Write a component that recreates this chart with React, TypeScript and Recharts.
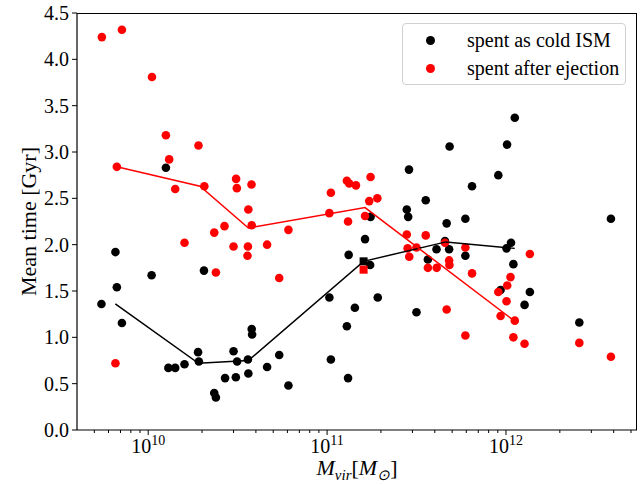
import {
  ComposedChart,
  Scatter,
  XAxis,
  YAxis,
} from "recharts";

// mass in M_sun, time in Gyr
const coldMass = [
  5.48e9, 6.56e9, 6.68e9, 7.13e9, 1.045e10, 1.256e10, 1.297e10, 1.416e10, 1.596e10, 1.9e10,
  1.92e10, 2.05e10, 2.34e10, 2.39e10, 2.69e10, 3.0e10, 3.09e10, 3.14e10, 3.61e10, 3.63e10,
  3.79e10, 3.81e10, 4.62e10, 5.4e10, 6.08e10, 1.03e11, 1.05e11, 1.29e11, 1.31e11, 1.32e11,
  1.43e11, 1.63e11, 1.74e11, 1.75e11, 1.92e11, 2.79e11, 2.84e11, 2.87e11, 3.16e11, 3.56e11,
  3.66e11, 4.09e11, 4.56e11, 4.66e11, 4.81e11, 4.84e11, 5.93e11, 5.93e11, 6.46e11, 9.06e11,
  9.33e11, 1.007e12, 1.014e12, 1.067e12, 1.1e12, 1.12e12, 1.27e12, 1.36e12, 2.57e12, 3.86e12,
];
const coldTime = [
  1.36, 1.92, 1.54, 1.155, 1.67, 2.83, 0.67, 0.67, 0.71, 0.84,
  0.74, 1.72, 0.4, 0.35, 0.56, 0.85, 0.57, 0.74, 0.76, 0.61,
  1.09, 1.03, 0.68, 0.81, 0.48, 1.43, 0.76, 1.12, 0.56, 1.89,
  1.32, 2.06, 1.78, 2.3, 1.43, 2.38, 2.3, 2.81, 1.27, 2.48,
  1.84, 1.95, 2.04, 2.23, 1.95, 3.06, 2.28, 1.88, 2.63, 2.75,
  1.51, 1.96, 3.08, 2.02, 1.79, 3.37, 1.35, 1.49, 1.16, 2.28,
];

const ejMass = [
  5.51e9, 7.13e9, 6.56e9, 6.68e9, 1.05e10, 1.256e10, 1.31e10, 1.416e10, 1.596e10, 1.91e10,
  2.06e10, 2.34e10, 2.39e10, 2.67e10, 3.0e10, 3.1e10, 3.13e10, 3.59e10, 3.61e10, 3.63e10,
  3.78e10, 3.79e10, 4.62e10, 5.4e10, 6.08e10, 1.03e11, 1.05e11, 1.29e11, 1.31e11, 1.33e11,
  1.45e11, 1.63e11, 1.72e11, 1.75e11, 1.91e11, 2.79e11, 2.82e11, 2.88e11, 3.16e11, 3.56e11,
  3.66e11, 4.1e11, 4.56e11, 4.66e11, 4.81e11, 4.83e11, 5.93e11, 5.93e11, 6.46e11, 9.06e11,
  9.33e11, 1.007e12, 1.016e12, 1.06e12, 1.1e12, 1.12e12, 1.27e12, 1.36e12, 2.57e12, 3.86e12,
];
const ejTime = [
  4.24, 4.32, 0.72, 2.84, 3.81, 3.18, 2.92, 2.6, 2.02, 3.07,
  2.63, 2.13, 1.7, 2.2, 1.98, 2.71, 2.61, 1.88, 1.98, 2.38,
  2.65, 2.21, 2.0, 1.64, 2.16, 2.34, 2.56, 2.69, 2.25, 2.66,
  2.64, 2.31, 2.47, 2.73, 2.5, 2.11, 1.96, 1.87, 1.97, 2.1,
  1.75, 1.75, 2.02, 1.3, 1.83, 1.78, 1.97, 1.02, 1.69, 1.49,
  1.23, 1.39, 1.56, 1.65, 1.0, 1.18, 0.93, 1.9, 0.94, 0.79,
];

// median curves
const coldLineMass = [6.55e9, 1.91e10, 3.63e10, 1.6e11, 4.62e11, 1.12e12];
const coldLineTime = [1.36, 0.72, 0.75, 1.82, 2.03, 1.96];
const ejLineMass = [6.68e9, 1.95e10, 3.63e10, 1.63e11, 1.074e12];
const ejLineTime = [2.84, 2.63, 2.18, 2.4, 1.2];

// highlighted object
const specialMass = [1.6e11];
const specialCold = [1.82];
const specialEj = [1.73];

const xMajor = [1e10, 1e11, 1e12];
const xMinor = [
  5e9, 6e9, 7e9, 8e9, 9e9,
  2e10, 3e10, 4e10, 5e10, 6e10, 7e10, 8e10, 9e10,
  2e11, 3e11, 4e11, 5e11, 6e11, 7e11, 8e11, 9e11,
  2e12, 3e12, 4e12, 5e12,
];
const yTicks = [0, 0.5, 1, 1.5, 2, 2.5, 3, 3.5, 4, 4.5];

const X_MIN = 4.0e9;
const X_MAX = 5.4e12;
const FONT = "'Liberation Serif', 'Times New Roman', serif";

const zip = (xs: number[], ys: number[]) => xs.map((x, i) => ({ x, y: ys[i] }));

const coldData = zip(coldMass, coldTime);
const ejData = zip(ejMass, ejTime);
const coldLine = zip(coldLineMass, coldLineTime);
const ejLine = zip(ejLineMass, ejLineTime);
const coldSquare = zip(specialMass, specialCold);
const ejSquare = zip(specialMass, specialEj);

const dot = (color: string) => (p: any) => <circle cx={p.cx} cy={p.cy} r={4.3} fill={color} />;
const square = (color: string) => (p: any) => (
  <rect x={p.cx - 4} y={p.cy - 4} width={8} height={8} fill={color} />
);
const noShape = () => <g />;

function XTick(props: any) {
  const { x, y, payload } = props;
  const major = xMajor.includes(payload.value);
  const exp = Math.round(Math.log10(payload.value));
  return (
    <g>
      <line x1={x} x2={x} y1={y} y2={y + (major ? 5 : 3)} stroke="#000" strokeWidth={1} />
      {major && (
        <text x={x} y={y + 23} textAnchor="middle" fontFamily={FONT} fontSize={20} fill="#000">
          <tspan>10</tspan>
          <tspan dy={-8} fontSize={14}>{exp}</tspan>
        </text>
      )}
    </g>
  );
}

function YLabel(props: any) {
  const vb = props.viewBox;
  const cx = 28;
  const cy = vb.y + vb.height / 2;
  return (
    <text
      x={cx}
      y={cy}
      transform={`rotate(-90 ${cx} ${cy})`}
      textAnchor="middle"
      dominantBaseline="central"
      fontFamily={FONT}
      fontSize={22}
      fill="#000"
    >
      Mean time [Gyr]
    </text>
  );
}

function LegendBox() {
  const row = (color: string, text: string) => (
    <div style={{ display: "flex", alignItems: "center", height: 28 }}>
      <span
        style={{
          width: 9,
          height: 9,
          borderRadius: "50%",
          background: color,
          marginLeft: 23,
          marginRight: 32,
        }}
      />
      <span>{text}</span>
    </div>
  );
  return (
    <div
      style={{
        position: "absolute",
        left: 402,
        top: 23,
        border: "1px solid #d0d0d0",
        borderRadius: 4,
        background: "rgba(255,255,255,0.8)",
        width: 224,
        height: 62,
        boxSizing: "border-box",
        paddingTop: 2,
        fontFamily: FONT,
        fontSize: 20,
        color: "#000",
        lineHeight: "28px",
      }}
    >
      {row("#000", "spent as cold ISM")}
      {row("#ff0000", "spent after ejection")}
    </div>
  );
}

export default function App() {
  return (
    <div style={{ position: "absolute", left: 0, top: 0, width: 641, height: 485, background: "#fff" }}>
      <ComposedChart width={641} height={485} margin={{ top: 13, right: 4, left: 0, bottom: 0 }}>
        <XAxis
          dataKey="x"
          type="number"
          scale="log"
          domain={[X_MIN, X_MAX]}
          allowDataOverflow
          ticks={[...xMajor, ...xMinor]}
          interval={0}
          tick={<XTick />}
          tickLine={false}
          tickSize={0}
          tickMargin={0}
          axisLine={{ stroke: "#000", strokeWidth: 1.2 }}
          height={55}
        />
        <YAxis
          dataKey="y"
          type="number"
          domain={[0, 4.5]}
          ticks={yTicks}
          interval={0}
          tickFormatter={(v: number) => v.toFixed(1)}
          tick={{ fill: "#000", fontSize: 20, fontFamily: FONT }}
          tickLine={{ stroke: "#000" }}
          tickSize={5}
          tickMargin={3}
          axisLine={{ stroke: "#000", strokeWidth: 1.2 }}
          width={77}
          label={<YLabel />}
        />
        <Scatter name="spent as cold ISM" data={coldData} fill="#000" shape={dot("#000")} isAnimationActive={false} />
        <Scatter name="spent after ejection" data={ejData} fill="#ff0000" shape={dot("#ff0000")} isAnimationActive={false} />
        <Scatter
          data={coldLine}
          line={{ stroke: "#000", strokeWidth: 1.5 }}
          shape={noShape}
          legendType="none"
          isAnimationActive={false}
        />
        <Scatter
          data={ejLine}
          line={{ stroke: "#ff0000", strokeWidth: 1.5 }}
          shape={noShape}
          legendType="none"
          isAnimationActive={false}
        />
        <Scatter data={coldSquare} shape={square("#000")} legendType="none" isAnimationActive={false} />
        <Scatter data={ejSquare} shape={square("#ff0000")} legendType="none" isAnimationActive={false} />
      </ComposedChart>
      {/* plot frame (top and right spines) */}
      <div
        style={{
          position: "absolute",
          left: 77,
          top: 13,
          width: 560,
          height: 417,
          borderTop: "1.2px solid #000",
          borderRight: "1.2px solid #000",
          boxSizing: "border-box",
          pointerEvents: "none",
        }}
      />
      <LegendBox />
      <div
        style={{
          position: "absolute",
          left: 77,
          width: 560,
          top: 456,
          textAlign: "center",
          fontFamily: FONT,
          fontSize: 22,
          lineHeight: "24px",
          fontStyle: "italic",
          color: "#000",
        }}
      >
        M<sub style={{ fontSize: 15, lineHeight: 0 }}>vir</sub>
        <span style={{ fontStyle: "normal" }}>[</span>M
        <sub style={{ fontSize: 15, lineHeight: 0 }}>⊙</sub>
        <span style={{ fontStyle: "normal" }}>]</span>
      </div>
    </div>
  );
}
